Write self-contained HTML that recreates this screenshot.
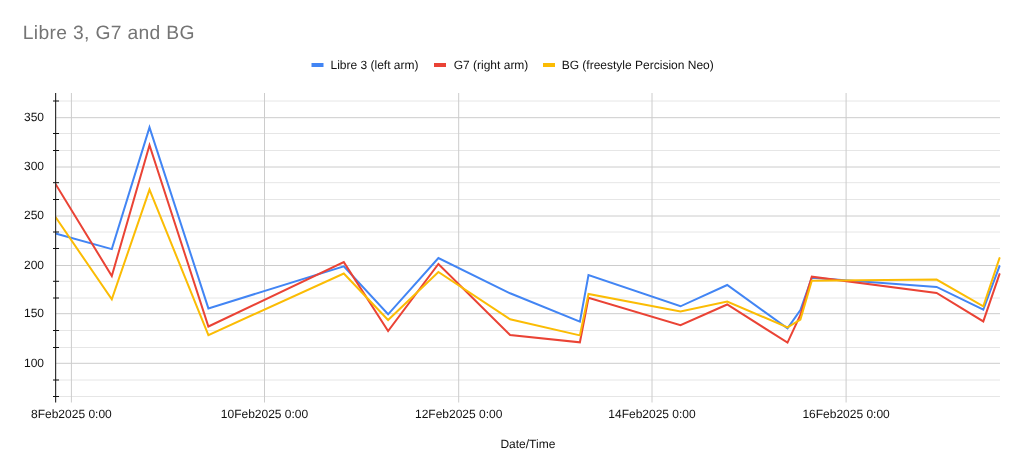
<!DOCTYPE html>
<html><head><meta charset="utf-8"><style>
html,body{margin:0;padding:0;background:#fff;overflow:hidden}
svg{display:block;will-change:transform}
.lab{font-family:"Liberation Sans",sans-serif;font-size:12px;fill:#111111}
.title{font-family:"Liberation Sans",sans-serif;font-size:19.3px;letter-spacing:0.33px;fill:#757575}
text{text-rendering:geometricPrecision}
</style></head><body>
<svg width="1024" height="474" viewBox="0 0 1024 474">
<rect width="1024" height="474" fill="#ffffff"/>
<line x1="55.5" y1="101.00" x2="1000" y2="101.00" stroke="#e6e6e6" stroke-width="1"/>
<line x1="55.5" y1="133.50" x2="1000" y2="133.50" stroke="#e6e6e6" stroke-width="1"/>
<line x1="55.5" y1="150.50" x2="1000" y2="150.50" stroke="#e6e6e6" stroke-width="1"/>
<line x1="55.5" y1="182.70" x2="1000" y2="182.70" stroke="#e6e6e6" stroke-width="1"/>
<line x1="55.5" y1="199.50" x2="1000" y2="199.50" stroke="#e6e6e6" stroke-width="1"/>
<line x1="55.5" y1="232.00" x2="1000" y2="232.00" stroke="#e6e6e6" stroke-width="1"/>
<line x1="55.5" y1="248.50" x2="1000" y2="248.50" stroke="#e6e6e6" stroke-width="1"/>
<line x1="55.5" y1="281.30" x2="1000" y2="281.30" stroke="#e6e6e6" stroke-width="1"/>
<line x1="55.5" y1="298.00" x2="1000" y2="298.00" stroke="#e6e6e6" stroke-width="1"/>
<line x1="55.5" y1="330.50" x2="1000" y2="330.50" stroke="#e6e6e6" stroke-width="1"/>
<line x1="55.5" y1="347.50" x2="1000" y2="347.50" stroke="#e6e6e6" stroke-width="1"/>
<line x1="55.5" y1="380.00" x2="1000" y2="380.00" stroke="#e6e6e6" stroke-width="1"/>
<line x1="55.5" y1="396.50" x2="1000" y2="396.50" stroke="#e6e6e6" stroke-width="1"/>
<line x1="55.5" y1="117.70" x2="1000" y2="117.70" stroke="#cccccc" stroke-width="1"/>
<line x1="55.5" y1="167.00" x2="1000" y2="167.00" stroke="#cccccc" stroke-width="1"/>
<line x1="55.5" y1="216.00" x2="1000" y2="216.00" stroke="#cccccc" stroke-width="1"/>
<line x1="55.5" y1="265.50" x2="1000" y2="265.50" stroke="#cccccc" stroke-width="1"/>
<line x1="55.5" y1="313.70" x2="1000" y2="313.70" stroke="#cccccc" stroke-width="1"/>
<line x1="55.5" y1="363.30" x2="1000" y2="363.30" stroke="#cccccc" stroke-width="1"/>
<line x1="71.4" y1="93" x2="71.4" y2="402.5" stroke="#cccccc" stroke-width="1"/>
<line x1="264.5" y1="93" x2="264.5" y2="402.5" stroke="#cccccc" stroke-width="1"/>
<line x1="458.7" y1="93" x2="458.7" y2="402.5" stroke="#cccccc" stroke-width="1"/>
<line x1="652.0" y1="93" x2="652.0" y2="402.5" stroke="#cccccc" stroke-width="1"/>
<line x1="846.1" y1="93" x2="846.1" y2="402.5" stroke="#cccccc" stroke-width="1"/>
<text x="44" y="120.90" text-anchor="end" class="lab">350</text>
<text x="44" y="170.20" text-anchor="end" class="lab">300</text>
<text x="44" y="219.20" text-anchor="end" class="lab">250</text>
<text x="44" y="268.70" text-anchor="end" class="lab">200</text>
<text x="44" y="316.90" text-anchor="end" class="lab">150</text>
<text x="44" y="366.50" text-anchor="end" class="lab">100</text>
<text x="71.4" y="418.2" text-anchor="middle" class="lab">8Feb2025 0:00</text>
<text x="264.5" y="418.2" text-anchor="middle" class="lab">10Feb2025 0:00</text>
<text x="458.7" y="418.2" text-anchor="middle" class="lab">12Feb2025 0:00</text>
<text x="652.0" y="418.2" text-anchor="middle" class="lab">14Feb2025 0:00</text>
<text x="846.1" y="418.2" text-anchor="middle" class="lab">16Feb2025 0:00</text>
<defs><clipPath id="ca"><rect x="55" y="80" width="946" height="330"/></clipPath></defs><g clip-path="url(#ca)">
<polyline points="55.5,233.5 111.8,249.1 149.5,127.4 208.4,308.4 343.8,266.4 388.1,314.3 438.4,258.0 510.1,293.3 579.9,321.7 588.5,275.0 680.5,306.3 727.2,285.0 787.5,328.4 800.4,310.0 811.8,277.8 936.6,286.9 983.3,309.7 999.5,266.1" fill="none" stroke="#4285f4" stroke-width="2" stroke-linejoin="miter" stroke-linecap="round"/>
<polyline points="55.5,183.9 111.8,276.0 149.5,145.2 208.4,326.5 343.8,262.1 388.1,331.1 438.4,264.0 510.1,335.0 579.9,342.3 588.5,297.7 680.5,325.1 727.2,304.5 787.5,342.6 800.4,315.0 811.8,276.7 936.6,293.0 983.3,321.4 999.5,274.1" fill="none" stroke="#ea4335" stroke-width="2" stroke-linejoin="miter" stroke-linecap="round"/>
<polyline points="55.5,217.0 111.8,299.4 149.5,189.6 208.4,335.1 343.8,273.5 388.1,320.0 438.4,272.0 510.1,319.3 579.9,335.4 588.5,294.0 680.5,311.4 727.2,301.5 787.5,327.4 800.4,319.5 811.8,280.8 936.6,279.6 983.3,306.3 999.5,258.1" fill="none" stroke="#fbbc04" stroke-width="2" stroke-linejoin="miter" stroke-linecap="round"/>
</g>
<rect x="55" y="93" width="1.2" height="309.5" fill="#333333"/>
<line x1="53" y1="101.00" x2="59" y2="101.00" stroke="#111111" stroke-width="1"/>
<line x1="53" y1="133.50" x2="59" y2="133.50" stroke="#111111" stroke-width="1"/>
<line x1="53" y1="150.50" x2="59" y2="150.50" stroke="#111111" stroke-width="1"/>
<line x1="53" y1="182.70" x2="59" y2="182.70" stroke="#111111" stroke-width="1"/>
<line x1="53" y1="199.50" x2="59" y2="199.50" stroke="#111111" stroke-width="1"/>
<line x1="53" y1="232.00" x2="59" y2="232.00" stroke="#111111" stroke-width="1"/>
<line x1="53" y1="248.50" x2="59" y2="248.50" stroke="#111111" stroke-width="1"/>
<line x1="53" y1="281.30" x2="59" y2="281.30" stroke="#111111" stroke-width="1"/>
<line x1="53" y1="298.00" x2="59" y2="298.00" stroke="#111111" stroke-width="1"/>
<line x1="53" y1="330.50" x2="59" y2="330.50" stroke="#111111" stroke-width="1"/>
<line x1="53" y1="347.50" x2="59" y2="347.50" stroke="#111111" stroke-width="1"/>
<line x1="53" y1="380.00" x2="59" y2="380.00" stroke="#111111" stroke-width="1"/>
<line x1="53" y1="396.50" x2="59" y2="396.50" stroke="#111111" stroke-width="1"/>
<rect x="311.5" y="63" width="12" height="4" fill="#4285f4"/>
<text x="330.5" y="68.7" class="lab">Libre 3 (left arm)</text>
<rect x="434" y="63" width="12" height="4" fill="#ea4335"/>
<text x="453.7" y="68.7" class="lab">G7 (right arm)</text>
<rect x="543" y="63" width="12" height="4" fill="#fbbc04"/>
<text x="561.7" y="68.7" class="lab">BG (freestyle Percision Neo)</text>
<text x="22.8" y="39.1" class="title">Libre 3, G7 and BG</text>
<text x="527.9" y="447.8" text-anchor="middle" class="lab">Date/Time</text>
</svg>
</body></html>
